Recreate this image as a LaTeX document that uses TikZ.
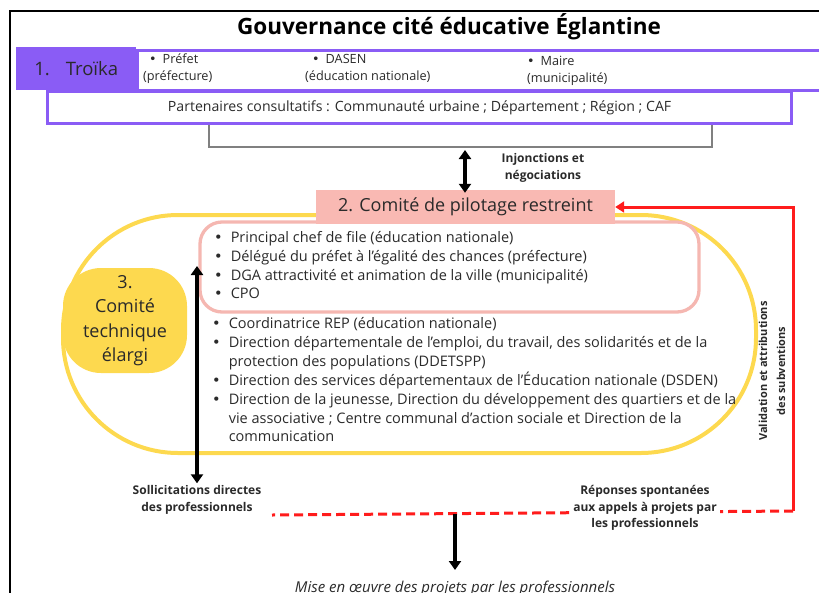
\documentclass[tikz,border=0pt]{standalone}
\usepackage{fontspec}
\setmainfont{Open Sans}
\newfontfamily\dejavu{DejaVu Sans}
\newcommand{\bul}{{\dejavu •}}
\usetikzlibrary{arrows.meta}
\definecolor{troika}{HTML}{8A5CF5}
\definecolor{pinkfill}{HTML}{F9B9B3}
\definecolor{pinkline}{HTML}{F5B7B1}
\definecolor{yel}{HTML}{FDD94F}
\definecolor{redl}{HTML}{FF1C1C}
\definecolor{txt}{HTML}{2A2A2A}
\tikzset{
  dblarrow/.style={line width=3.2pt,{Triangle[width=12pt,length=9pt]}-{Triangle[width=12pt,length=9pt]}},
  onearrow/.style={line width=3.2pt,-{Triangle[width=12pt,length=9pt]}},
  redline/.style={draw=redl,line width=3pt},
  boldlbl/.style={font=\bfseries\fontsize{12}{17}\selectfont,align=center,text=txt,inner sep=1pt},
  listtxt/.style={font=\fontsize{14.5}{18.8}\selectfont,text=txt,inner sep=0pt,anchor=west},
  trsmall/.style={font=\fontsize{12.7}{17}\selectfont,text=txt,align=left,inner sep=0pt,anchor=north west}
}
\begin{document}
\begin{tikzpicture}[x=1pt,y=-1pt]
\useasboundingbox (0,0) rectangle (819,592);
% frame
\draw[line width=1.6pt] (10,600) -- (10,11) -- (830,11);
% title
\node (title) at (449,27) {\bfseries\fontsize{22.5}{25}\selectfont Gouvernance cité éducative Églantine};
% troika
\node[draw=troika,line width=3.2pt,minimum width=700pt,minimum height=40pt,anchor=north west,inner sep=0pt] (members) at (136,49) {};
\node[fill=troika,minimum width=120pt,minimum height=43pt,anchor=north west,inner sep=0pt,text=txt] (troikabox) at (16,47) {\fontsize{18.5}{20}\selectfont 1.\hspace{16pt}Troïka};
\node[trsmall] (prefet) at (143,54) {\hspace*{6pt}\bul\hspace{6pt}Préfet\\(préfecture)};
\node[trsmall] (dasen) at (305,54) {\hspace*{7pt}\bul\hspace{6pt}DASEN\\(éducation nationale)};
\node[trsmall] (maire) at (527,56) {\bul\hspace{6pt}Maire\\(municipalité)};
% partenaires
\node[draw=troika,line width=3.2pt,minimum width=744pt,minimum height=32pt,anchor=north west,inner sep=0pt,text=txt,font=\fontsize{14.1}{16}\selectfont] (part) at (46,90) {Partenaires consultatifs : Communauté urbaine ; Département ; Région ; CAF};
\coordinate (bl) at (209,147);
\coordinate (br) at (712,147);
\draw[gray,line width=1.3pt] (part.south -| bl) -- (bl) -- (br) -- (part.south -| br);
% stadium
\node[draw=yel,line width=4pt,rounded corners=115pt,minimum width=693pt,minimum height=238pt,inner sep=0pt] (tech) at (409.5,334) {};
% inner pink
\node[draw=pinkline,fill=white,line width=3.3pt,rounded corners=22pt,minimum width=499pt,minimum height=90pt,inner sep=0pt] (restreint) at (449.5,267) {};
% pilot
\node[fill=pinkfill,minimum width=299pt,minimum height=34pt,inner sep=0pt,text=txt] (pilot) at (465.5,207) {\fontsize{18}{20}\selectfont 2. Comité de pilotage restreint};
% injonctions
\coordinate (injtop) at (465,150);
\draw[dblarrow] (injtop) -- ([yshift=-3pt]injtop |- pilot.north);
\node[boldlbl] (inj) at (543,168) {Injonctions et\\négociations};
% comite 3
\node[fill=yel,rounded corners=38pt,minimum width=124pt,minimum height=105pt,inner sep=0pt,align=center,text=txt,font=\fontsize{18}{24.5}\selectfont] (c3) at (125,320.5) {3.\\Comité\\technique\\élargi};
% lists
\node[listtxt] (list1) at (214,267) {\begin{tabular}{@{}c@{\hspace{8pt}}l@{}}
\bul & Principal chef de file (éducation nationale)\\
\bul & Délégué du préfet à l'égalité des chances (préfecture)\\
\bul & DGA attractivité et animation de la ville (municipalité)\\
\bul & CPO
\end{tabular}};
\node[listtxt] (list2) at (212,381.5) {\begin{tabular}{@{}c@{\hspace{8pt}}l@{}}
\bul & Coordinatrice REP (éducation nationale)\\
\bul & Direction départementale de l’emploi, du travail, des solidarités et de la\\
 & protection des populations (DDETSPP)\\
\bul & Direction des services départementaux de l’Éducation nationale (DSDEN)\\
\bul & Direction de la jeunesse, Direction du développement des quartiers et de la\\
 & vie associative ; Centre communal d’action sociale et Direction de la\\
 & communication
\end{tabular}};
% sollicitations
\node[boldlbl] (sol) at (197,500) {Sollicitations directes\\des professionnels};
\coordinate (soltop) at (197,266);
\draw[dblarrow] (soltop) -- ([yshift=1pt]sol.north);
% red path
\coordinate (redtop) at (793,207);
\coordinate (redcorner) at (793,511);
\coordinate (dashend) at (272,515);
\draw[redline,dash pattern=on 9pt off 5pt] (redcorner) -- (dashend);
\draw[redline,-{Triangle[width=11pt,length=9pt]}] (redcorner) -- (redtop) -- (pilot.east);
\node[boldlbl,fill=white,inner sep=3pt,font=\bfseries\fontsize{12}{16.5}\selectfont] (rep) at (645,508) {Réponses spontanées\\aux appels à projets par\\les professionnels};
\node[boldlbl,rotate=90,font=\bfseries\fontsize{11}{18}\selectfont] (valid) at (772,371) {Validation et attributions\\des subventions};
% mise en oeuvre
\coordinate (misetop) at (455,514);
\node[text=txt,inner sep=0pt,anchor=base] (mise) at (455,592) {\itshape\fontsize{15}{17}\selectfont Mise en œuvre des projets par les professionnels};
\coordinate (misebot) at (455,570);
\draw[onearrow] (misetop) -- (misebot);
\end{tikzpicture}
\end{document}
